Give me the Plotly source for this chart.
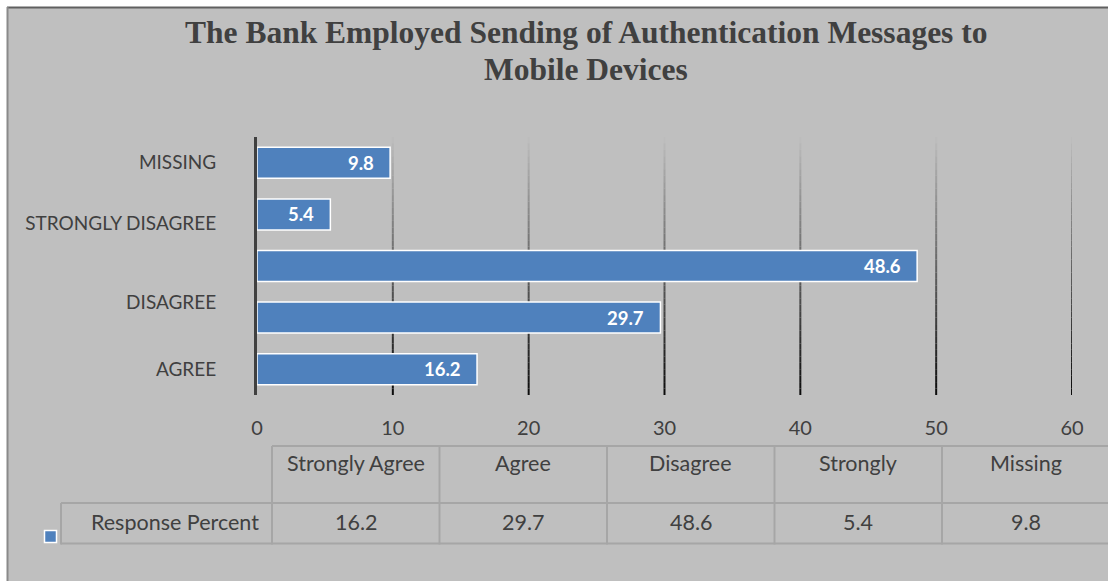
import plotly.graph_objects as go

# Survey responses: "The Bank Employed Sending of Authentication Messages to Mobile Devices"
table_headers = ["Strongly Agree", "Agree", "Disagree", "Strongly", "Missing"]
response_percent = [16.2, 29.7, 48.6, 5.4, 9.8]
series_name = "Response Percent"

axis_labels = ["AGREE", "DISAGREE", "STRONGLY DISAGREE", "MISSING"]
x_ticks = [0, 10, 20, 30, 40, 50, 60]

title_lines = ["The Bank Employed Sending of Authentication Messages to", "Mobile Devices"]

W, H = 1108, 581
PLOT_L, PLOT_R, PLOT_T, PLOT_B = 257, 1072, 137, 395

BAR_COLOR = "#4f81bd"
BG = "#bfbfbf"
TEXT = "#404040"
TABLE_LINE = "#a6a6a6"
FONT = "Lato"


def px(x):
    return (x - PLOT_L) / (PLOT_R - PLOT_L)


def py(y):
    return (PLOT_B - y) / (PLOT_B - PLOT_T)


positions = list(range(len(response_percent)))

fig = go.Figure()
fig.add_trace(go.Bar(
    x=response_percent,
    y=positions,
    orientation="h",
    width=0.6,
    marker=dict(color=BAR_COLOR, line=dict(color="white", width=1.5)),
    name=series_name,
    hoverinfo="x",
    showlegend=False,
))

shapes = []
annotations = []

# grey chart area with its top and left edges
shapes.append(dict(type="rect", xref="paper", yref="paper",
                   x0=px(8), x1=px(W + 2), y0=py(8), y1=py(H + 2),
                   fillcolor=BG, line=dict(width=0), layer="below"))
shapes.append(dict(type="line", xref="paper", yref="paper",
                   x0=px(7), x1=px(W), y0=py(7.5), y1=py(7.5),
                   line=dict(color="#606060", width=2), layer="below"))
shapes.append(dict(type="line", xref="paper", yref="paper",
                   x0=px(7.5), x1=px(7.5), y0=py(7), y1=py(H),
                   line=dict(color="#8a8a8a", width=2), layer="below"))

# vertical gridlines that fade from light at the top to black at the bottom
steps = 40
top_rgb = (190, 190, 190)
bot_rgb = (10, 10, 10)
for gx in x_ticks[1:]:
    for i in range(steps):
        t = (i + 0.5) / steps
        c = tuple(int(round(top_rgb[k] + (bot_rgb[k] - top_rgb[k]) * t)) for k in range(3))
        shapes.append(dict(type="line", xref="x", yref="paper",
                           x0=gx, x1=gx, y0=1 - i / steps, y1=1 - (i + 1) / steps,
                           line=dict(color="rgb(%d,%d,%d)" % c, width=2), layer="below"))

# value labels inside the bar ends
for v, p in zip(response_percent, positions):
    annotations.append(dict(x=v, y=p, xref="x", yref="y", text="<b>%s</b>" % v,
                            xanchor="right", yanchor="middle", xshift=-14, showarrow=False,
                            font=dict(family=FONT, size=18.5, color="white")))

# title, two centred lines
for line, ty in zip(title_lines, [33, 69]):
    annotations.append(dict(x=px(585.5), y=py(ty), xref="paper", yref="paper",
                            text="<b>%s</b>" % line,
                            xanchor="center", yanchor="middle", showarrow=False,
                            font=dict(family="Liberation Serif", size=31.5, color=TEXT)))

# data table beneath the chart
col_edges = [272, 439.5, 607, 774.5, 942, 1109.5]
row_top, row_mid, row_bot = 446, 503, 543.5
table_left = 61
TABLE_FONT = dict(family=FONT, size=21.5, color=TEXT)

def hline(x0, x1, y):
    shapes.append(dict(type="line", xref="paper", yref="paper",
                       x0=px(x0), x1=px(x1), y0=py(y), y1=py(y),
                       line=dict(color=TABLE_LINE, width=2)))

def vline(x, y0, y1):
    shapes.append(dict(type="line", xref="paper", yref="paper",
                       x0=px(x), x1=px(x), y0=py(y0), y1=py(y1),
                       line=dict(color=TABLE_LINE, width=2)))

hline(col_edges[0], W, row_top)
hline(table_left, W, row_mid)
hline(table_left, W, row_bot)
for ce in col_edges[:-1]:
    vline(ce, row_top, row_bot + 1)
vline(table_left, row_mid, row_bot + 1)

for i, (hdr, v) in enumerate(zip(table_headers, response_percent)):
    cx = (col_edges[i] + col_edges[i + 1]) / 2
    annotations.append(dict(x=px(cx), y=py(463), xref="paper", yref="paper", text=hdr,
                            xanchor="center", yanchor="middle", showarrow=False,
                            font=TABLE_FONT))
    annotations.append(dict(x=px(cx), y=py(522), xref="paper", yref="paper", text=str(v),
                            xanchor="center", yanchor="middle", showarrow=False,
                            font=TABLE_FONT))

annotations.append(dict(x=px(261), y=py(522), xref="paper", yref="paper", text=series_name,
                        xanchor="right", yanchor="middle", showarrow=False,
                        font=TABLE_FONT))

# legend key
shapes.append(dict(type="rect", xref="paper", yref="paper",
                   x0=px(44.5), x1=px(56.5), y0=py(530.5), y1=py(542.5),
                   fillcolor=BAR_COLOR, line=dict(color="white", width=1.5)))

fig.update_layout(
    width=W, height=H,
    margin=dict(l=PLOT_L, r=W - PLOT_R, t=PLOT_T, b=H - PLOT_B, pad=0),
    paper_bgcolor="white",
    plot_bgcolor="rgba(0,0,0,0)",
    showlegend=False,
    shapes=shapes,
    annotations=annotations,
    xaxis=dict(range=[0, 60], tickvals=x_ticks, showgrid=False, zeroline=False,
               ticks="", ticklabelstandoff=19,
               tickfont=dict(family=FONT, size=20, color=TEXT), fixedrange=True),
    yaxis=dict(range=[-0.5, 4.5], tickvals=[0, 1.3, 2.82, 4], ticktext=axis_labels,
               showgrid=False, zeroline=False, ticks="", ticklabelstandoff=34,
               showline=True, linecolor="#404040", linewidth=3,
               tickfont=dict(family=FONT, size=19, color=TEXT), fixedrange=True),
)

fig.write_html("out.html", config={"displayModeBar": False})
